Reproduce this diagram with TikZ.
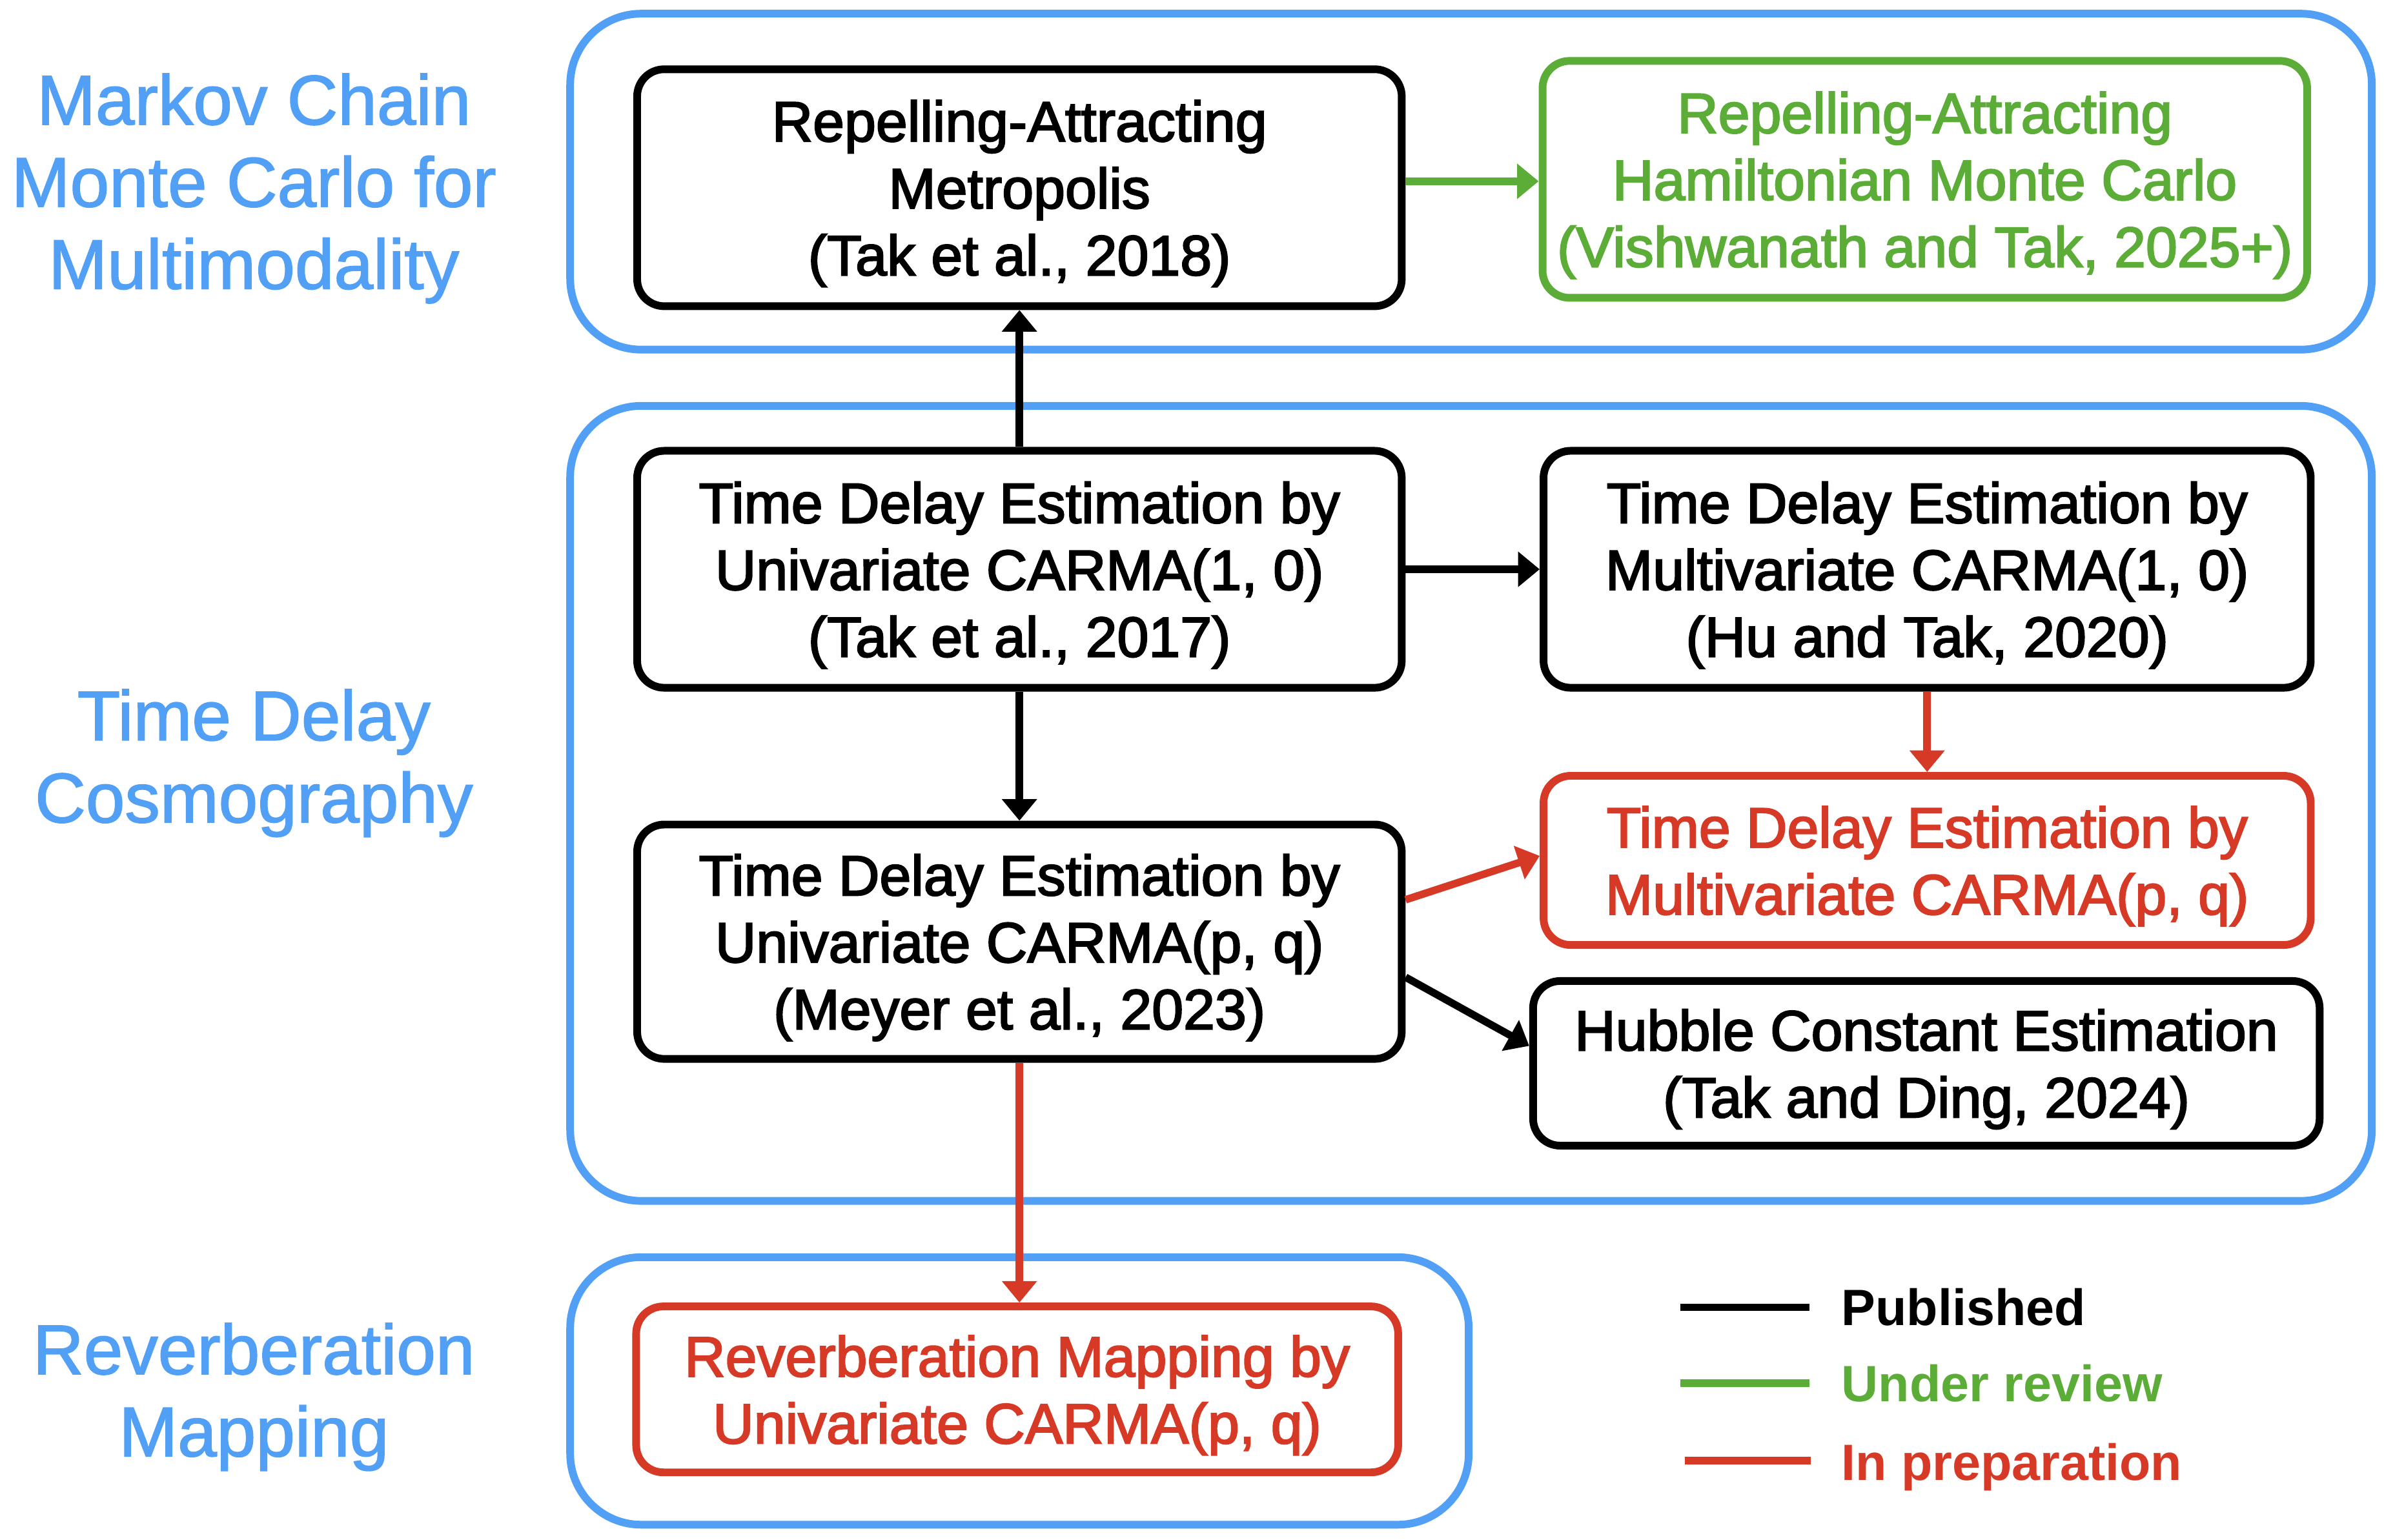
\documentclass[tikz,border=0pt]{standalone}
\usepackage{fontspec}
\setmainfont{Liberation Sans}
\newfontfamily\boxfont{Liberation Sans}[FakeBold=2.5]
\newfontfamily\grpfont{Liberation Sans}[FakeBold=1.5]
\usetikzlibrary{arrows.meta,calc}
\definecolor{grpblue}{RGB}{82,160,246}
\definecolor{revgreen}{RGB}{92,173,55}
\definecolor{prepred}{RGB}{214,58,38}
\tikzset{
  paper/.style={draw, line width=3.4pt, rounded corners=0.42cm, align=center,
    font=\boxfont\fontsize{25}{29.5}\selectfont, inner sep=0pt, fill=white,
    text depth=0pt},
  group/.style={draw=grpblue, line width=3.4pt, rounded corners=1.1cm},
  grplabel/.style={text=grpblue, align=center, font=\grpfont\fontsize{31}{36.2}\selectfont},
  link/.style={line width=3.3pt, -{Triangle[length=9.5pt,width=15pt]}},
  legtext/.style={anchor=base west, font=\fontsize{22.5}{27}\selectfont\bfseries},
  legline/.style={line width=3.4pt},
  box3/.style={minimum width=11.84cm, minimum height=3.67cm},
}
\begin{document}
\begin{tikzpicture}[x=0.02355cm, y=-0.02355cm]
\useasboundingbox (0,0) rectangle (1568,1013);

% groups
\draw[group] (375,9) rectangle (1560,230);
\draw[group] (375,267) rectangle (1560,790);
\draw[group] (375,827) rectangle (966,1003);

% group labels
\node[grplabel] (gl1) at (167,124) {Markov Chain\\Monte Carlo for\\Multimodality};
\node[grplabel] (gl2) at (167,502) {Time Delay\\Cosmography};
\node[grplabel] (gl3) at (167,919) {Reverberation\\Mapping};

% boxes
\node[paper, box3] (A) at (670.5,123.5) {Repelling-Attracting\\Metropolis\\(Tak et al., 2018)};
\node[paper, box3, draw=revgreen, text=revgreen] (B) at (1266,118) {Repelling-Attracting\\Hamiltonian Monte Carlo\\(Vishwanath and Tak, 2025+)};
\node[paper, box3] (C) at (670.5,374.5) {Time Delay Estimation by\\Univariate CARMA(1, 0)\\(Tak et al., 2017)};
\node[paper, box3, minimum width=11.88cm] (D) at (1267.5,374.5) {Time Delay Estimation by\\Multivariate CARMA(1, 0)\\(Hu and Tak, 2020)};
\node[paper, draw=prepred, text=prepred, minimum width=11.88cm, minimum height=2.62cm] (E) at (1267.5,566) {Time Delay Estimation by\\Multivariate CARMA(p, q)};
\node[paper, box3, minimum height=3.63cm] (F) at (670.5,619.5) {Time Delay Estimation by\\Univariate CARMA(p, q)\\(Meyer et al., 2023)};
\node[paper, minimum width=12.18cm, minimum height=2.55cm] (G) at (1267,699.5) {Hubble Constant Estimation\\(Tak and Ding, 2024)};
\node[paper, draw=prepred, text=prepred, minimum width=11.8cm, minimum height=2.57cm] (H) at (669,914) {Reverberation Mapping by\\Univariate CARMA(p, q)};

% connectors
\draw[link] (C.north) -- (A.south);
\draw[link, revgreen] ([yshift=0.1cm]A.east) -- ([yshift=0.1cm]A.east -| B.west);
\draw[link] (C.east) -- (C.east -| D.west);
\draw[link] (C.south) -- (F.south |- F.north);
\draw[link, prepred] (D.south) -- (E.north);
\draw[link, prepred] ([yshift=0.65cm]F.east) -- ([yshift=0.07cm]E.west);
\draw[link] ([yshift=-0.55cm]F.east) -- ([yshift=0.27cm]G.west);
\draw[link, prepred] (F.south) -- (H.north -| F.south);

% legend
\coordinate (l1a) at (1105,860); \coordinate (l1b) at (1190,860);
\coordinate (l2a) at (1105,910); \coordinate (l2b) at (1190,910);
\coordinate (l3a) at (1108,961); \coordinate (l3b) at (1191,961);
\draw[legline, black] (l1a) -- (l1b);
\draw[legline, revgreen] (l2a) -- (l2b);
\draw[legline, prepred] (l3a) -- (l3b);
\node[legtext, text=black] (t1) at (1206,872) {Published};
\node[legtext, text=revgreen] (t2) at (1206,922) {Under review};
\node[legtext, text=prepred] (t3) at (1206,974) {In preparation};
\end{tikzpicture}
\end{document}
